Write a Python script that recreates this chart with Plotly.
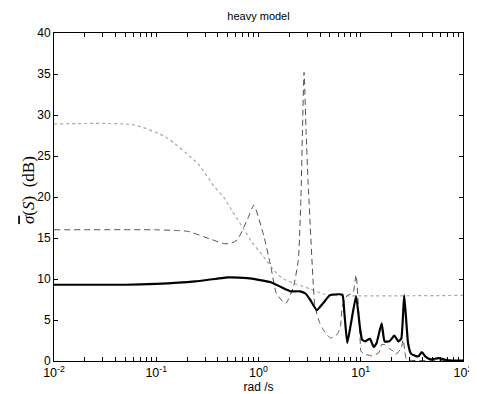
import plotly.graph_objects as go

# Solid (thick black) curve
f_solid = [0.01, 0.05, 0.1, 0.24, 0.5, 0.78, 1.0, 1.32, 1.88, 2.05, 2.56, 2.9, 3.19, 3.72,
           4.25, 4.96, 5.3, 6.61, 6.9, 7.38, 8.0, 9.0, 9.84, 10.3, 11.0, 12.3, 13.4, 14.3,
           16.0, 17.1, 19.1, 21.3, 23.3, 24.9, 26.6, 29.0, 31.0, 34.7, 37.0, 39.5, 43.2,
           48.3, 57.5, 67.0, 80.0, 100.0]
s_solid = [9.3, 9.3, 9.4, 9.7, 10.2, 10.1, 9.9, 9.6, 8.7, 8.5, 8.5, 8.2, 7.5, 6.2,
           7.0, 8.0, 8.1, 8.1, 6.0, 2.2, 4.5, 7.9, 4.0, 2.6, 2.4, 2.7, 1.7, 2.2,
           4.6, 2.4, 2.4, 3.1, 2.4, 2.7, 8.0, 2.2, 0.9, 0.6, 0.6, 1.1, 0.5,
           0.2, 0.35, 0.15, 0.05, 0.05]

# Dashed (dark grey) curve
f_dash = [0.01, 0.1, 0.165, 0.206, 0.35, 0.467, 0.55, 0.622, 0.776, 0.9, 1.13, 1.32, 1.5,
          1.84, 2.19, 2.45, 2.6, 2.79, 2.92, 3.05, 3.41, 3.56, 3.98, 4.25, 5.07, 5.91,
          6.32, 6.61, 7.38, 8.4, 9.0, 9.84, 10.05, 11.0, 12.3, 12.8, 15.0, 16.0, 17.1,
          19.1, 20.8, 22.0, 24.9, 26.0, 27.8, 30.0, 100.0]
s_dash = [16.0, 16.0, 15.9, 15.8, 14.8, 14.3, 14.4, 14.8, 17.2, 19.0, 15.2, 11.5, 8.2,
          7.0, 9.0, 12.3, 20.0, 35.2, 28.0, 22.0, 10.0, 6.7, 4.6, 3.9, 2.8, 3.3,
          4.2, 6.7, 8.0, 8.3, 10.5, 3.0, 1.2, 0.8, 0.7, 0.6, 1.0, 2.0, 2.0,
          1.5, 1.2, 0.8, 1.6, 2.6, 0.3, 0.1, 0.05]

# Dotted (light grey) curve
f_dot = [0.01, 0.06, 0.124, 0.257, 0.374, 0.467, 0.545, 0.726, 0.85, 1.06, 1.5, 1.76,
         2.19, 2.73, 3.19, 4.25, 5.3, 100.0]
s_dot = [28.9, 28.8, 27.3, 24.0, 21.2, 19.8, 18.4, 16.0, 14.6, 13.1, 10.7, 10.0,
         9.5, 9.1, 8.8, 8.2, 8.0, 8.0]

decades = [0.01, 0.1, 1, 10, 100]
decade_labels = ["10<sup>-2</sup>", "10<sup>-1</sup>", "10<sup>0</sup>", "10<sup>1</sup>", "10<sup>2</sup>"]
y_ticks = [0, 5, 10, 15, 20, 25, 30, 35, 40]

tickvals, ticktext = [], []
for i, d in enumerate(decades):
    tickvals.append(d)
    ticktext.append(decade_labels[i])
    if d < 100:
        for m in range(2, 10):
            tickvals.append(d * m)
            ticktext.append("")

fig = go.Figure()
fig.add_trace(go.Scatter(x=f_dot, y=s_dot, mode="lines",
                         line=dict(color="#a8a8a8", width=1.2, dash="dot", shape="spline", smoothing=0.6),
                         showlegend=False))
fig.add_trace(go.Scatter(x=f_dash, y=s_dash, mode="lines",
                         line=dict(color="#505050", width=1, dash="6px,4px", shape="spline", smoothing=0.5),
                         showlegend=False))
fig.add_trace(go.Scatter(x=f_solid, y=s_solid, mode="lines",
                         line=dict(color="black", width=2.2, shape="spline", smoothing=0.4),
                         showlegend=False))

fig.update_layout(
    width=477, height=394,
    margin=dict(l=46, r=14, t=25, b=39),
    paper_bgcolor="white", plot_bgcolor="white",
    font=dict(family="Liberation Sans, Arial", size=12, color="black"),
    title=dict(text="heavy model", x=0.5, xref="paper", xanchor="center",
               y=1, yref="container", yanchor="top", pad=dict(t=4),
               font=dict(size=11)),
    xaxis=dict(type="log", range=[-2, 2], tickvals=tickvals, ticktext=ticktext,
               ticks="inside", ticklen=4, tickcolor="black", showline=True,
               linecolor="black", linewidth=1, mirror="ticks", showgrid=False,
               zeroline=False, tickfont=dict(size=12.5), ticklabeloverflow="allow",
               title=dict(text="rad /s", font=dict(size=12), standoff=2)),
    yaxis=dict(range=[0, 40], tickvals=y_ticks, ticks="inside", ticklen=4,
               tickcolor="black", showline=True, linecolor="black", linewidth=1,
               mirror="ticks", showgrid=False, zeroline=False),
    annotations=[dict(text="<span style='text-decoration:overline'><i>σ</i></span>(<i>S</i>)  (dB)",
                      textangle=-90, xref="paper", yref="paper",
                      x=-0.062, y=0.52, xanchor="center", yanchor="middle", showarrow=False,
                      font=dict(family="Liberation Serif, DejaVu Serif", size=17))],
)

fig.write_html("out.html")
